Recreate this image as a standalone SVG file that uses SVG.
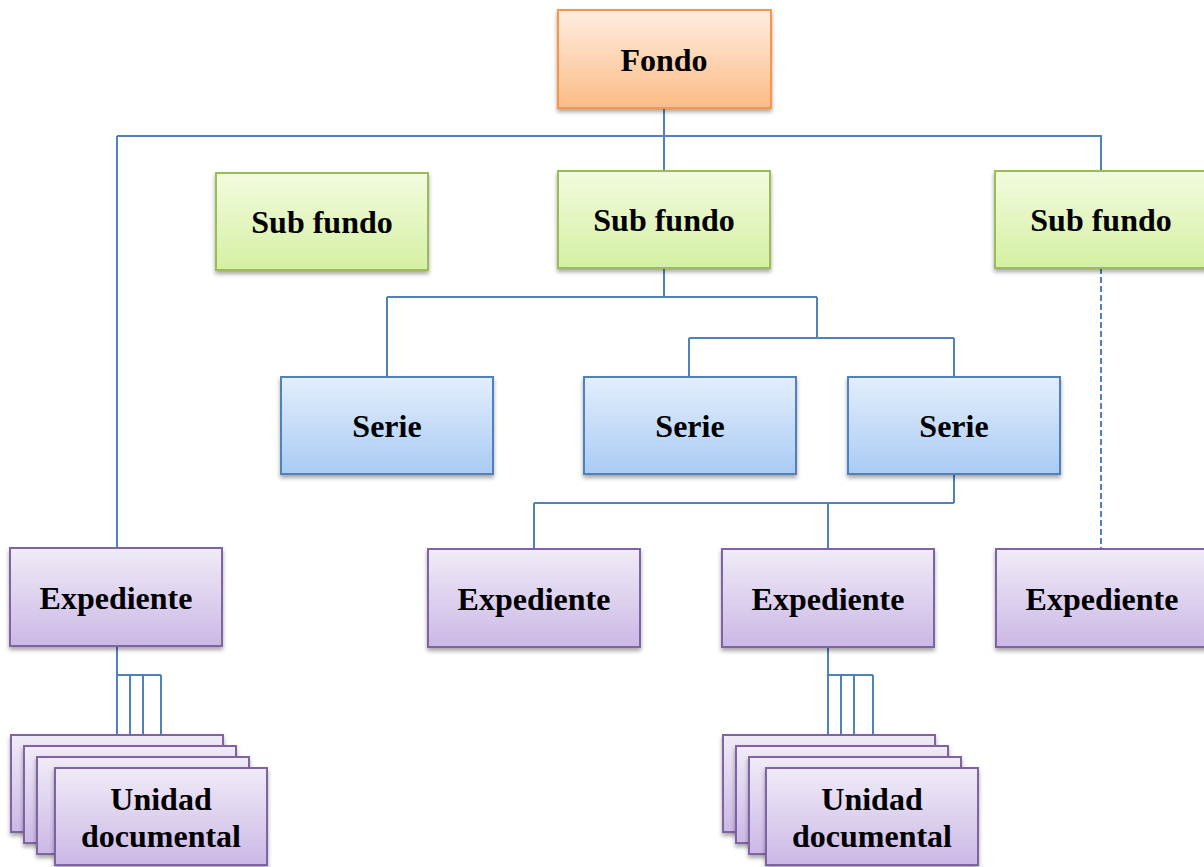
<svg xmlns="http://www.w3.org/2000/svg" width="1204" height="867" viewBox="0 0 1204 867">
<defs>
<linearGradient id="gO" x1="0" y1="0" x2="0" y2="1"><stop offset="0" stop-color="#FFEDE0"/><stop offset="1" stop-color="#FBBC86"/></linearGradient>
<linearGradient id="gG" x1="0" y1="0" x2="0" y2="1"><stop offset="0" stop-color="#F3FBDF"/><stop offset="1" stop-color="#D4F0A2"/></linearGradient>
<linearGradient id="gB" x1="0" y1="0" x2="0" y2="1"><stop offset="0" stop-color="#E3EEFD"/><stop offset="1" stop-color="#A9CBF4"/></linearGradient>
<linearGradient id="gP" x1="0" y1="0" x2="0" y2="1"><stop offset="0" stop-color="#F0EBF7"/><stop offset="1" stop-color="#CBB8E6"/></linearGradient>
<filter id="sh" x="-10%" y="-10%" width="130%" height="130%"><feDropShadow dx="0" dy="3" stdDeviation="2" flood-color="#000" flood-opacity="0.35"/></filter>
</defs>
<style>
.o{fill:url(#gO);stroke:#F79646;stroke-width:2;filter:url(#sh)}
.g{fill:url(#gG);stroke:#9BBB59;stroke-width:2;filter:url(#sh)}
.b{fill:url(#gB);stroke:#4F81BD;stroke-width:2;filter:url(#sh)}
.p{fill:url(#gP);stroke:#8064A2;stroke-width:2;filter:url(#sh)}
text{font-family:"Liberation Serif","Times New Roman",serif;font-weight:bold;font-size:32px;fill:#000;text-anchor:middle}
.c{fill:none;stroke:#4F81BD;stroke-width:2}
.d{stroke-dasharray:6 3}
</style>
<rect width="1204" height="867" fill="#fff"/>
<g id="connectors">
<path class="c" d="M664 108V171M117 136H1101V171M117 136V548"/>
<path class="c" d="M664 268V297M387 297H817M387 297V377M817 297V338M689 338H954M689 338V377M954 338V377"/>
<path class="c" d="M954 474V503M534 503H954M534 503V549M828 503V549"/>
<path class="c d" d="M1101 268V549"/>
<path class="c" d="M117 646V735M117 675H161M130 675V746M143 675V757M161 675V768"/>
<path class="c" d="M828 647V735M828 675H873M841 675V746M854 675V757M873 675V768"/>
</g>
<g id="fondo"><rect class="o" x="558" y="10" width="213" height="98"/><text x="664" y="71">Fondo</text></g>
<g id="subfundo1"><rect class="g" x="216" y="173" width="212" height="97"/><text x="322" y="233">Sub fundo</text></g>
<g id="subfundo2"><rect class="g" x="558" y="171" width="212" height="97"/><text x="664" y="231">Sub fundo</text></g>
<g id="subfundo3"><rect class="g" x="995" y="171" width="212" height="97"/><text x="1101" y="231">Sub fundo</text></g>
<g id="serie1"><rect class="b" x="281" y="377" width="212" height="97"/><text x="387" y="437">Serie</text></g>
<g id="serie2"><rect class="b" x="584" y="377" width="212" height="97"/><text x="690" y="437">Serie</text></g>
<g id="serie3"><rect class="b" x="848" y="377" width="212" height="97"/><text x="954" y="437">Serie</text></g>
<g id="expediente1"><rect class="p" x="10" y="548" width="212" height="98"/><text x="116" y="609">Expediente</text></g>
<g id="expediente2"><rect class="p" x="428" y="549" width="212" height="98"/><text x="534" y="610">Expediente</text></g>
<g id="expediente3"><rect class="p" x="722" y="549" width="212" height="98"/><text x="828" y="610">Expediente</text></g>
<g id="expediente4"><rect class="p" x="996" y="549" width="212" height="98"/><text x="1102" y="610">Expediente</text></g>
<g id="unidad1">
<rect class="p" x="11" y="735" width="212" height="97"/>
<rect class="p" x="24" y="746" width="212" height="97"/>
<rect class="p" x="37" y="757" width="212" height="97"/>
<rect class="p" x="55" y="768" width="212" height="97"/>
<text x="161" y="810">Unidad</text><text x="161" y="847">documental</text>
</g>
<g id="unidad2">
<rect class="p" x="723" y="735" width="212" height="97"/>
<rect class="p" x="736" y="746" width="212" height="97"/>
<rect class="p" x="749" y="757" width="212" height="97"/>
<rect class="p" x="766" y="768" width="212" height="97"/>
<text x="872" y="810">Unidad</text><text x="872" y="847">documental</text>
</g>
</svg>
